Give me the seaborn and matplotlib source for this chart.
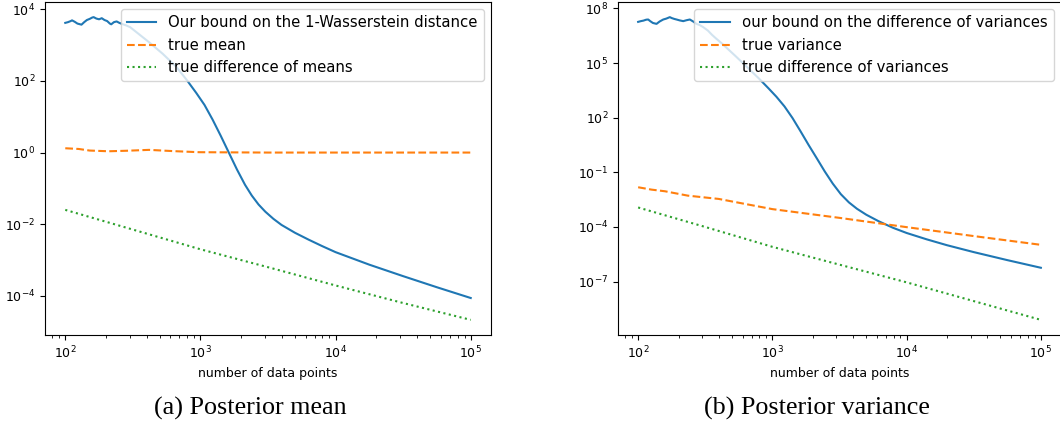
import numpy as np
import pandas as pd
import seaborn as sns
import matplotlib.pyplot as plt
from matplotlib.ticker import NullLocator

plt.rcdefaults()
plt.rcParams["xtick.labelsize"] = 9
plt.rcParams["ytick.labelsize"] = 9
plt.rcParams["axes.labelsize"] = 9
plt.rcParams["legend.fontsize"] = 10.7

# values, stored as log10 (both axes are log-scaled)
# left panel: posterior mean
mean_bound_logn = [2.00, 2.02, 2.04, 2.05, 2.07, 2.09, 2.11, 2.12, 2.14, 2.16, 2.18,
                   2.20, 2.21, 2.23, 2.25, 2.27, 2.29, 2.31, 2.33, 2.34, 2.36, 2.38,
                   2.40, 2.42, 2.45, 2.48, 2.52, 2.56, 2.62, 2.72, 2.82, 2.90, 2.97,
                   3.03, 3.09, 3.15, 3.21, 3.27, 3.33, 3.38, 3.43, 3.48, 3.54, 3.60,
                   3.70, 3.80, 3.90, 4.00, 4.25, 4.50, 4.75, 5.00]
mean_bound_logy = [3.62, 3.64, 3.67, 3.69, 3.65, 3.60, 3.58, 3.57, 3.64, 3.70, 3.73,
                   3.77, 3.78, 3.74, 3.72, 3.75, 3.70, 3.67, 3.60, 3.58, 3.64, 3.66,
                   3.62, 3.59, 3.55, 3.50, 3.38, 3.26, 3.08, 2.76, 2.40, 2.02, 1.66,
                   1.33, 0.92, 0.47, 0.00, -0.47, -0.90, -1.20, -1.45, -1.65, -1.85, -2.02,
                   -2.24, -2.43, -2.61, -2.78, -3.13, -3.45, -3.76, -4.06]
mean_true_logn = [2.00, 2.10, 2.18, 2.32, 2.45, 2.62, 2.80, 2.99, 3.50, 4.00, 4.50, 5.00]
mean_true_logy = [0.12, 0.10, 0.056, 0.036, 0.05, 0.075, 0.04, 0.01, 0.0, 0.0, 0.0, 0.0]
mean_diff_logn = [2.00, 2.50, 3.00, 3.50, 4.00, 4.50, 5.00]
mean_diff_logy = [-1.60, -2.15, -2.70, -3.20, -3.71, -4.20, -4.67]

# right panel: posterior variance
var_bound_logn = [2.00, 2.02, 2.04, 2.06, 2.075, 2.09, 2.11, 2.137, 2.16, 2.187, 2.21,
                  2.236, 2.25, 2.27, 2.286, 2.31, 2.336, 2.36, 2.385, 2.41, 2.435, 2.46,
                  2.485, 2.52, 2.55, 2.58, 2.62, 2.72, 2.82, 2.90, 2.97, 3.03, 3.09,
                  3.15, 3.21, 3.27, 3.33, 3.39, 3.45, 3.51, 3.57, 3.63, 3.70, 3.79,
                  3.90, 4.00, 4.15, 4.30, 4.50, 4.75, 5.00]
var_bound_logy = [7.26, 7.30, 7.33, 7.38, 7.39, 7.30, 7.20, 7.15, 7.28, 7.39, 7.44,
                  7.52, 7.47, 7.42, 7.39, 7.34, 7.30, 7.35, 7.39, 7.28, 7.15, 7.08,
                  6.97, 6.78, 6.55, 6.35, 6.10, 5.42, 4.72, 4.15, 3.62, 3.15, 2.62,
                  1.98, 1.25, 0.50, -0.22, -0.95, -1.62, -2.20, -2.65, -3.00, -3.33, -3.68,
                  -4.05, -4.33, -4.68, -5.00, -5.38, -5.82, -6.24]
var_true_logn = [2.00, 2.10, 2.20, 2.37, 2.60, 3.00, 3.50, 4.00, 4.50, 5.00]
var_true_logy = [-1.82, -1.95, -2.04, -2.28, -2.46, -3.02, -3.50, -4.01, -4.50, -4.98]
var_diff_logn = [2.00, 2.50, 3.00, 3.50, 4.00, 4.50, 5.00]
var_diff_logy = [-2.93, -4.00, -5.09, -6.07, -7.04, -8.07, -9.10]
var_yticks = [1e8, 1e5, 1e2, 1e-1, 1e-4, 1e-7]

mean_labels = ["Our bound on the 1-Wasserstein distance", "true mean",
               "true difference of means"]
var_labels = ["our bound on the difference of variances", "true variance",
              "true difference of variances"]
captions = ["(a) Posterior mean", "(b) Posterior variance"]


def make_frame(labels, series):
    parts = []
    for label, (logn, logy) in zip(labels, series):
        parts.append(pd.DataFrame({
            "n": 10.0 ** np.array(logn),
            "value": 10.0 ** np.array(logy),
            "series": label,
        }))
    return pd.concat(parts, ignore_index=True)


mean_df = make_frame(mean_labels, [(mean_bound_logn, mean_bound_logy),
                                   (mean_true_logn, mean_true_logy),
                                   (mean_diff_logn, mean_diff_logy)])
var_df = make_frame(var_labels, [(var_bound_logn, var_bound_logy),
                                 (var_true_logn, var_true_logy),
                                 (var_diff_logn, var_diff_logy)])

palette = ["#1f77b4", "#ff7f0e", "#2ca02c"]
dash_styles = ["", (3.7, 1.6), (1, 1.65)]

fig = plt.figure(figsize=(10.6, 4.28), dpi=100)
ax_left = fig.add_axes([45 / 1060, 1 - 335 / 428, 446 / 1060, 333 / 428])
ax_right = fig.add_axes([618 / 1060, 1 - 335 / 428, 443 / 1060, 333 / 428])

for ax, df, labels, cap, cx in [(ax_left, mean_df, mean_labels, captions[0], 250),
                                (ax_right, var_df, var_labels, captions[1], 817)]:
    sns.lineplot(data=df, x="n", y="value", hue="series", style="series",
                 hue_order=labels, style_order=labels,
                 palette=dict(zip(labels, palette)),
                 dashes=dict(zip(labels, dash_styles)),
                 estimator=None, sort=True, linewidth=1.5, ax=ax)
    ax.set_xscale("log")
    ax.set_yscale("log")
    ax.set_xlabel("number of data points")
    ax.set_ylabel("")
    handles, names = ax.get_legend_handles_labels()
    ax.legend(handles, names, loc="upper right")
    fig.text(cx / 1060, 1 - 408 / 428, cap, ha="center", va="center",
             fontsize=18.8, family="Liberation Serif")

ax_right.set_yticks(var_yticks)
ax_right.yaxis.set_minor_locator(NullLocator())
ax_left.yaxis.set_minor_locator(NullLocator())

fig.savefig("out.png", dpi=100)
